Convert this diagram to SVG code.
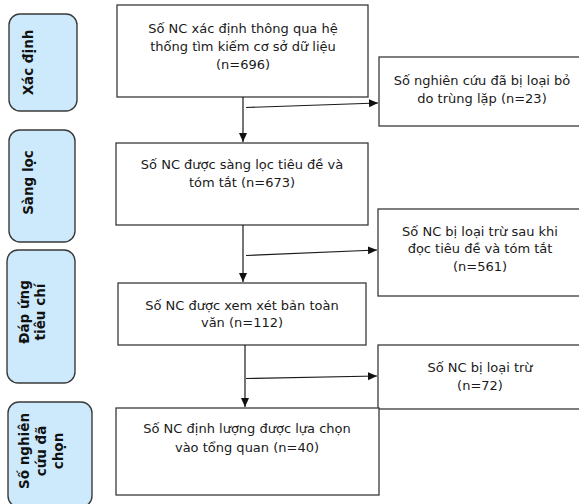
<svg xmlns="http://www.w3.org/2000/svg" width="579" height="504" viewBox="0 0 579 504">
<style>
.bg{fill:#ffffff}
.box{fill:#ffffff;stroke:#3a3a3a;stroke-width:1.3}
.lab{fill:#cdeafc;stroke:#3a3a3a;stroke-width:1.4}
.t{font-family:"DejaVu Sans",Verdana,sans-serif;font-size:13px;fill:#1a1a1a;text-anchor:middle}
.lt{font-family:"DejaVu Sans","Liberation Sans",sans-serif;font-size:13.5px;font-weight:bold;fill:#111111;text-anchor:middle}
.c{fill:none;stroke:#1a1a1a;stroke-width:1.2}
</style>
<defs>
<marker id="ah" markerWidth="10" markerHeight="10" refX="9" refY="5" orient="auto" markerUnits="userSpaceOnUse">
<path d="M0,1 L9,5 L0,9 Z" fill="#111111"/>
</marker>
</defs>
<rect class="bg" x="0" y="0" width="579" height="504"/>

<g id="label1">
<rect class="lab" x="9" y="14" width="68" height="97" rx="11"/>
<text class="lt" transform="translate(33,62.5) rotate(-90)">Xác định</text>
</g>
<g id="label2">
<rect class="lab" x="9" y="130" width="66" height="112" rx="11"/>
<text class="lt" transform="translate(33,182.5) rotate(-90)">Sàng lọc</text>
</g>
<g id="label3">
<rect class="lab" x="7" y="250" width="68" height="133" rx="11"/>
<text class="lt" transform="translate(29,312) rotate(-90)">Đáp ứng</text>
<text class="lt" transform="translate(45,312) rotate(-90)">tiêu chí</text>
</g>
<g id="label4">
<rect class="lab" x="8" y="402" width="84" height="105" rx="11"/>
<text class="lt" transform="translate(29,451) rotate(-90)">Số nghiên</text>
<text class="lt" transform="translate(46,451) rotate(-90)">cứu đã</text>
<text class="lt" transform="translate(63,451) rotate(-90)">chọn</text>
</g>

<g id="box1">
<rect class="box" x="117" y="5" width="251" height="92"/>
<text class="t" x="243" y="33">Số NC xác định thông qua hệ</text>
<text class="t" x="243" y="51">thống tìm kiếm cơ sở dữ liệu</text>
<text class="t" x="243" y="69">(n=696)</text>
</g>
<g id="side1">
<rect class="box" x="379" y="57" width="207" height="69"/>
<text class="t" x="482" y="85">Số nghiên cứu đã bị loại bỏ</text>
<text class="t" x="482" y="103">do trùng lặp (n=23)</text>
</g>
<g id="box2">
<rect class="box" x="116" y="143" width="252" height="82"/>
<text class="t" x="242" y="169">Số NC được sàng lọc tiêu đề và</text>
<text class="t" x="242" y="187">tóm tắt (n=673)</text>
</g>
<g id="side2">
<rect class="box" x="378" y="209" width="208" height="87"/>
<text class="t" x="480" y="236">Số NC bị loại trừ sau khi</text>
<text class="t" x="480" y="253">đọc tiêu đề và tóm tắt</text>
<text class="t" x="480" y="271">(n=561)</text>
</g>
<g id="box3">
<rect class="box" x="118" y="283" width="248" height="62"/>
<text class="t" x="242" y="310">Số NC được xem xét bản toàn</text>
<text class="t" x="242" y="327">văn (n=112)</text>
</g>
<g id="side3">
<rect class="box" x="378" y="345" width="208" height="64"/>
<text class="t" x="480" y="372">Số NC bị loại trừ</text>
<text class="t" x="480" y="390">(n=72)</text>
</g>
<g id="box4">
<rect class="box" x="116" y="408" width="263" height="87"/>
<text class="t" x="247" y="433">Số NC định lượng được lựa chọn</text>
<text class="t" x="247" y="452">vào tổng quan (n=40)</text>
</g>

<g id="connectors">
<line class="c" x1="243" y1="97" x2="243" y2="142" marker-end="url(#ah)"/>
<line class="c" x1="246" y1="107.5" x2="378" y2="103" marker-end="url(#ah)"/>
<line class="c" x1="243" y1="225" x2="243" y2="282" marker-end="url(#ah)"/>
<line class="c" x1="246" y1="255.5" x2="377" y2="250" marker-end="url(#ah)"/>
<line class="c" x1="245" y1="345" x2="245" y2="407" marker-end="url(#ah)"/>
<line class="c" x1="246" y1="378.5" x2="377" y2="376" marker-end="url(#ah)"/>
</g>
</svg>
